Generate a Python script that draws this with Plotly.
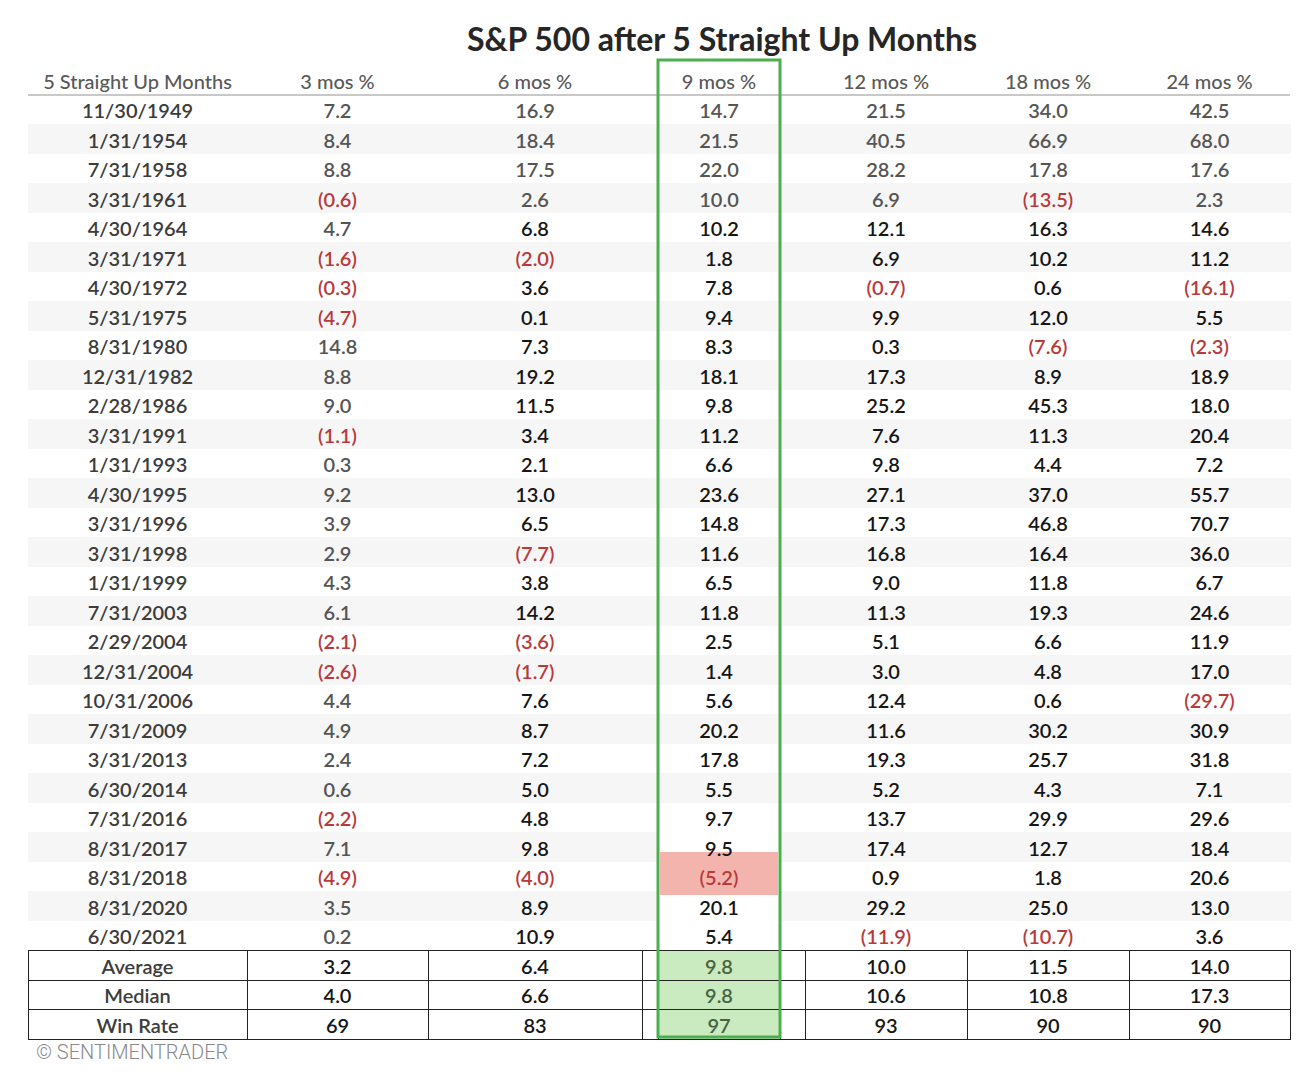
import plotly.graph_objects as go

# table data
dates = ["11/30/1949", "1/31/1954", "7/31/1958", "3/31/1961", "4/30/1964", "3/31/1971",
         "4/30/1972", "5/31/1975", "8/31/1980", "12/31/1982", "2/28/1986", "3/31/1991",
         "1/31/1993", "4/30/1995", "3/31/1996", "3/31/1998", "1/31/1999", "7/31/2003",
         "2/29/2004", "12/31/2004", "10/31/2006", "7/31/2009", "3/31/2013", "6/30/2014",
         "7/31/2016", "8/31/2017", "8/31/2018", "8/31/2020", "6/30/2021"]
m3 = [7.2, 8.4, 8.8, -0.6, 4.7, -1.6, -0.3, -4.7, 14.8, 8.8, 9.0, -1.1, 0.3, 9.2, 3.9,
      2.9, 4.3, 6.1, -2.1, -2.6, 4.4, 4.9, 2.4, 0.6, -2.2, 7.1, -4.9, 3.5, 0.2]
m6 = [16.9, 18.4, 17.5, 2.6, 6.8, -2.0, 3.6, 0.1, 7.3, 19.2, 11.5, 3.4, 2.1, 13.0, 6.5,
      -7.7, 3.8, 14.2, -3.6, -1.7, 7.6, 8.7, 7.2, 5.0, 4.8, 9.8, -4.0, 8.9, 10.9]
m9 = [14.7, 21.5, 22.0, 10.0, 10.2, 1.8, 7.8, 9.4, 8.3, 18.1, 9.8, 11.2, 6.6, 23.6, 14.8,
      11.6, 6.5, 11.8, 2.5, 1.4, 5.6, 20.2, 17.8, 5.5, 9.7, 9.5, -5.2, 20.1, 5.4]
m12 = [21.5, 40.5, 28.2, 6.9, 12.1, 6.9, -0.7, 9.9, 0.3, 17.3, 25.2, 7.6, 9.8, 27.1, 17.3,
       16.8, 9.0, 11.3, 5.1, 3.0, 12.4, 11.6, 19.3, 5.2, 13.7, 17.4, 0.9, 29.2, -11.9]
m18 = [34.0, 66.9, 17.8, -13.5, 16.3, 10.2, 0.6, 12.0, -7.6, 8.9, 45.3, 11.3, 4.4, 37.0, 46.8,
       16.4, 11.8, 19.3, 6.6, 4.8, 0.6, 30.2, 25.7, 4.3, 29.9, 12.7, 1.8, 25.0, -10.7]
m24 = [42.5, 68.0, 17.6, 2.3, 14.6, 11.2, -16.1, 5.5, -2.3, 18.9, 18.0, 20.4, 7.2, 55.7, 70.7,
       36.0, 6.7, 24.6, 11.9, 17.0, -29.7, 30.9, 31.8, 7.1, 29.6, 18.4, 20.6, 13.0, 3.6]

summary_labels = ["Average", "Median", "Win Rate"]
avg = [3.2, 6.4, 9.8, 10.0, 11.5, 14.0]
med = [4.0, 6.6, 9.8, 10.6, 10.8, 17.3]
win = [69, 83, 97, 93, 90, 90]

headers = ["5 Straight Up Months", "3 mos %", "6 mos %", "9 mos %", "12 mos %", "18 mos %", "24 mos %"]

RED = "#b83a3c"
GRAY = "#555555"
DARK = "#161616"
STRIPE = "#f6f6f6"
GREEN_FILL = "#c9ebbf"
PINK = "#f4b4ae"
CLEAR = "rgba(0,0,0,0)"

# the page body has an 8px margin, so work in picture pixels and convert
W, H, OFF = 1300, 1068, 8


def px(x):
    return (x - OFF) / W


def py(y):
    return 1 - (y - OFF) / H


n = len(dates)
nrows = n + 3
hl = 26  # row of the highlighted 9 mos cell


def fmt(v):
    return "(%.1f)" % abs(v) if v < 0 else "%.1f" % v


def col_text(vals, i):
    return [fmt(v) for v in vals] + ["%.1f" % avg[i], "%.1f" % med[i], "%d" % win[i]]


def col_font(vals, base, first=None):
    out = []
    for k, v in enumerate(vals):
        if v < 0:
            out.append(RED)
        elif first is not None and k < 4:
            out.append(first)
        else:
            out.append(base)
    return out + [DARK] * 3


stripe = [STRIPE if k % 2 == 1 else "white" for k in range(n)] + ["white"] * 3
border = stripe[:n] + ["#222222"] * 3

# 9 mos column is split in three so the highlighted band is narrower than the column
mid_fill = [CLEAR if hl - 1 <= k <= hl + 1 else stripe[k] for k in range(n)] + [GREEN_FILL] * 3
mid_line = mid_fill[:n] + ["#222222"] * 3

values = [
    dates + summary_labels,
    col_text(m3, 0),
    col_text(m6, 1),
    [""] * nrows,
    col_text(m9, 2),
    [""] * nrows,
    col_text(m12, 3),
    col_text(m18, 4),
    col_text(m24, 5),
]
fonts = [
    ["#3c3c3c"] * nrows,
    col_font(m3, GRAY),
    col_font(m6, DARK, GRAY),
    [DARK] * nrows,
    col_font(m9, DARK, GRAY)[:n] + ["#48643f"] * 3,
    [DARK] * nrows,
    col_font(m12, DARK, GRAY),
    col_font(m18, DARK, GRAY),
    col_font(m24, DARK, GRAY),
]
fills = [stripe, stripe, stripe, stripe, mid_fill, stripe, stripe, stripe, stripe]
lines = [border, border, border, border, mid_line, border, border, border, border]

# non-breaking spaces keep the header labels on one line
hdr = [h.replace(" ", "\u00a0") for h in headers]
head_vals = [hdr[0], hdr[1], hdr[2], "", hdr[3], "", hdr[4], hdr[5], hdr[6]]

fig = go.Figure(data=go.Table(
    columnwidth=[219, 181, 214, 16, 122, 25, 162, 162, 161],
    header=dict(values=head_vals, height=29, align="center",
                fill_color="white", line_color="white",
                font=dict(family="Lato", size=20, color="#595959", weight=500)),
    cells=dict(values=values, height=29.5, align="center",
               fill_color=fills, line=dict(color=lines, width=1),
               font=dict(family="Lato", size=20, color=fonts, weight=600)),
    domain=dict(x=[px(28), px(1290)], y=[0, py(66)]),
))

fig.update_layout(
    width=W, height=H,
    margin=dict(l=0, r=0, t=0, b=0),
    paper_bgcolor="white",
    title=dict(text="<b>S&P 500 after 5 Straight Up Months</b>", x=px(722), xanchor="center",
               y=py(40), yanchor="middle", font=dict(family="Lato", size=32, color="#262626")),
    shapes=[
        # pink highlight of the one losing 9-month case
        dict(type="rect", xref="paper", yref="paper", layer="below",
             x0=px(660), x1=px(778), y0=py(895), y1=py(852),
             fillcolor=PINK, line_width=0),
        # header underline
        dict(type="line", xref="paper", yref="paper",
             x0=px(28), x1=px(1290), y0=py(95), y1=py(95),
             line=dict(color="#c8c8c8", width=2)),
        # green frame round the 9 mos column
        dict(type="rect", xref="paper", yref="paper",
             x0=px(658), x1=px(780), y0=py(1037), y1=py(60),
             line=dict(color="#4cae4c", width=3)),
    ],
    annotations=[
        dict(text="© SENTIMENTRADER", xref="paper", yref="paper", x=px(34), y=py(1052),
             xanchor="left", yanchor="middle", showarrow=False,
             font=dict(family="Roboto", size=20, color="#8a8a8a", weight=300)),
    ],
)

fig.write_html("out.html")
